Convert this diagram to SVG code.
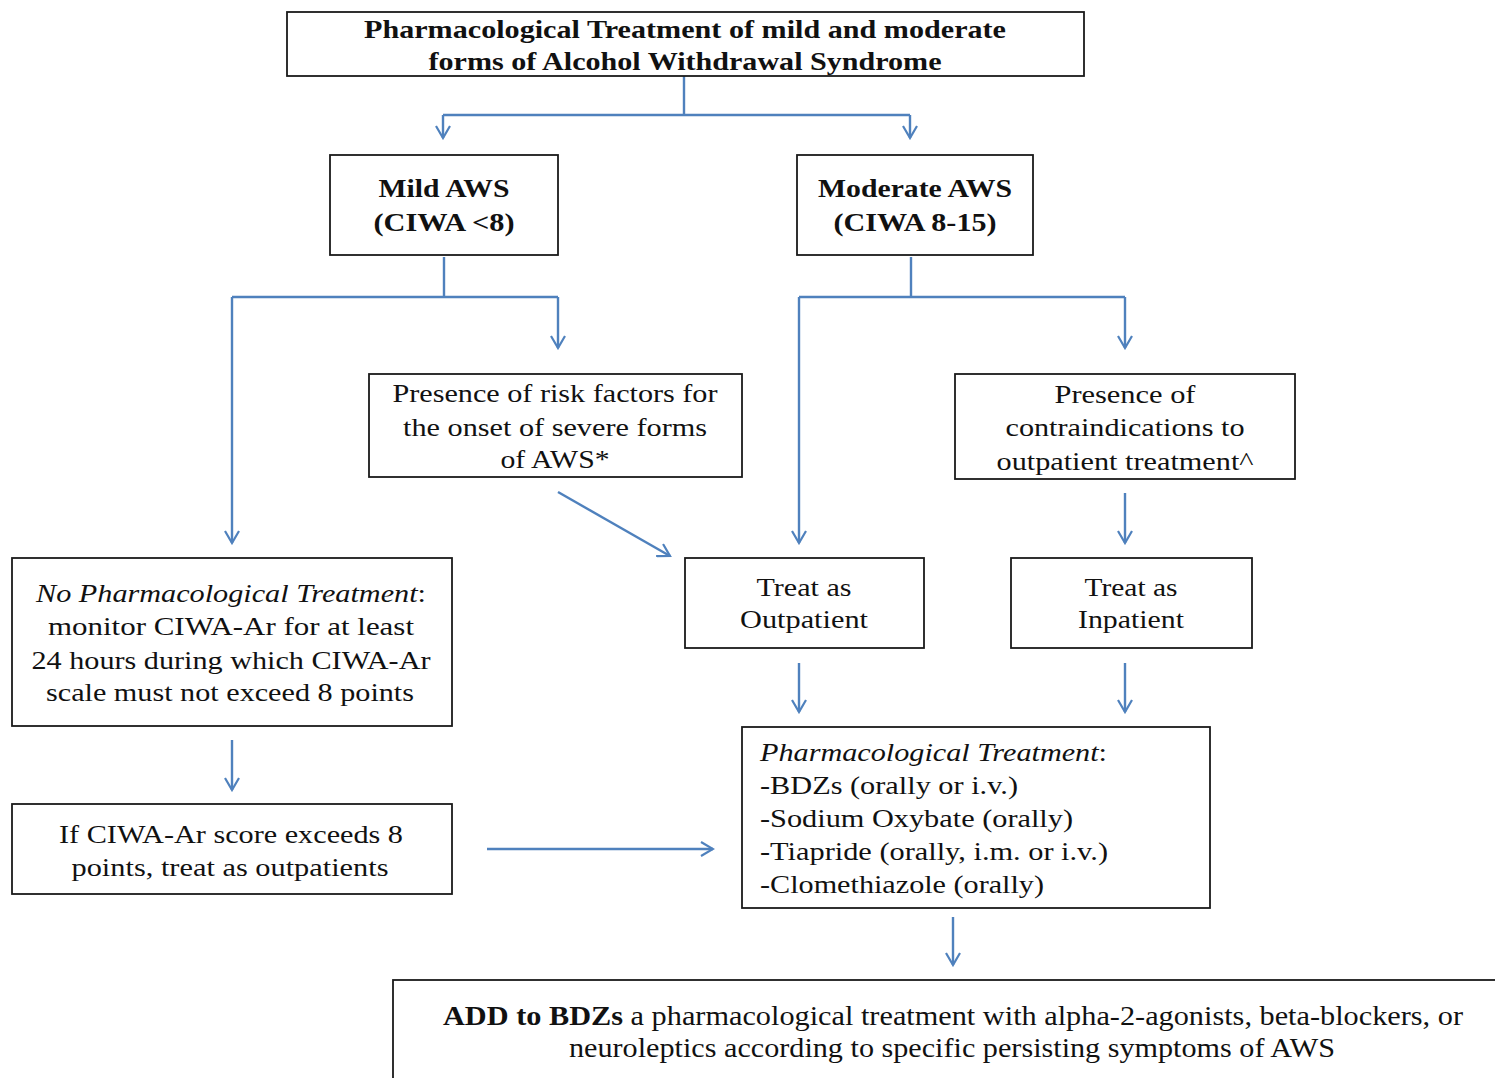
<svg xmlns="http://www.w3.org/2000/svg" width="1495" height="1078" viewBox="0 0 1495 1078">
<style>
.box{fill:#fff;stroke:#1a1a1a;stroke-width:1.8}
.t{font-family:"Liberation Serif","Times New Roman",serif;font-size:25px;fill:#111}
.b{font-weight:bold}
.i{font-style:italic}
.c{text-anchor:middle}
.cn{fill:none;stroke:#4f81bd;stroke-width:2.4}
</style>
<defs>
<marker id="ah" viewBox="0 0 16 16" refX="14" refY="8" markerWidth="16" markerHeight="16" markerUnits="userSpaceOnUse" orient="auto">
<path d="M2,1 L14,8 L2,15" fill="none" stroke="#4f81bd" stroke-width="2.2"/>
</marker>
</defs>
<g id="connectors">
<path class="cn" d="M684,76 V115 M443,115 H910"/>
<path class="cn" d="M443,115 V138" marker-end="url(#ah)"/>
<path class="cn" d="M910,115 V138" marker-end="url(#ah)"/>
<path class="cn" d="M444,257 V297 M232,297 H558"/>
<path class="cn" d="M232,297 V543" marker-end="url(#ah)"/>
<path class="cn" d="M558,297 V348" marker-end="url(#ah)"/>
<path class="cn" d="M911,257 V297 M799,297 H1125"/>
<path class="cn" d="M799,297 V543" marker-end="url(#ah)"/>
<path class="cn" d="M1125,297 V348" marker-end="url(#ah)"/>
<path class="cn" d="M558,492 L670,556" marker-end="url(#ah)"/>
<path class="cn" d="M1125,493 V543" marker-end="url(#ah)"/>
<path class="cn" d="M232,740 V790" marker-end="url(#ah)"/>
<path class="cn" d="M799,663 V712" marker-end="url(#ah)"/>
<path class="cn" d="M1125,663 V712" marker-end="url(#ah)"/>
<path class="cn" d="M487,849 H713" marker-end="url(#ah)"/>
<path class="cn" d="M953,917 V965" marker-end="url(#ah)"/>
</g>
<g id="title">
<rect class="box" x="287" y="12" width="797" height="64"/>
<text class="t b c" x="685" y="38" textLength="642" lengthAdjust="spacingAndGlyphs">Pharmacological Treatment of mild and moderate</text>
<text class="t b c" x="685" y="70" textLength="513" lengthAdjust="spacingAndGlyphs">forms of Alcohol Withdrawal Syndrome</text>
</g>
<g id="mild">
<rect class="box" x="330" y="155" width="228" height="100"/>
<text class="t b c" x="444" y="197" textLength="131" lengthAdjust="spacingAndGlyphs">Mild AWS</text>
<text class="t b c" x="444" y="231" textLength="141" lengthAdjust="spacingAndGlyphs">(CIWA &lt;8)</text>
</g>
<g id="moderate">
<rect class="box" x="797" y="155" width="236" height="100"/>
<text class="t b c" x="915" y="197" textLength="194" lengthAdjust="spacingAndGlyphs">Moderate AWS</text>
<text class="t b c" x="915" y="231" textLength="163" lengthAdjust="spacingAndGlyphs">(CIWA 8-15)</text>
</g>
<g id="risk">
<rect class="box" x="369" y="374" width="373" height="103"/>
<text class="t c" x="555" y="402" textLength="325" lengthAdjust="spacingAndGlyphs">Presence of risk factors for</text>
<text class="t c" x="555" y="436" textLength="304" lengthAdjust="spacingAndGlyphs">the onset of severe forms</text>
<text class="t c" x="555" y="468" textLength="109" lengthAdjust="spacingAndGlyphs">of AWS*</text>
</g>
<g id="contra">
<rect class="box" x="955" y="374" width="340" height="105"/>
<text class="t c" x="1125" y="403" textLength="141" lengthAdjust="spacingAndGlyphs">Presence of</text>
<text class="t c" x="1125" y="436" textLength="239" lengthAdjust="spacingAndGlyphs">contraindications to</text>
<text class="t c" x="1125" y="470" textLength="257" lengthAdjust="spacingAndGlyphs">outpatient treatment^</text>
</g>
<g id="nopharm">
<rect class="box" x="12" y="558" width="440" height="168"/>
<text class="t c" x="231" y="602" textLength="390" lengthAdjust="spacingAndGlyphs"><tspan class="i">No Pharmacological Treatment</tspan>:</text>
<text class="t c" x="231" y="635" textLength="366" lengthAdjust="spacingAndGlyphs">monitor  CIWA-Ar for at least</text>
<text class="t c" x="231" y="669" textLength="399" lengthAdjust="spacingAndGlyphs">24 hours during which CIWA-Ar</text>
<text class="t c" x="230" y="701" textLength="368" lengthAdjust="spacingAndGlyphs">scale must not exceed 8 points</text>
</g>
<g id="outpatient">
<rect class="box" x="685" y="558" width="239" height="90"/>
<text class="t c" x="804" y="596" textLength="95" lengthAdjust="spacingAndGlyphs">Treat as</text>
<text class="t c" x="804" y="628" textLength="128" lengthAdjust="spacingAndGlyphs">Outpatient</text>
</g>
<g id="inpatient">
<rect class="box" x="1011" y="558" width="241" height="90"/>
<text class="t c" x="1131" y="596" textLength="93" lengthAdjust="spacingAndGlyphs">Treat as</text>
<text class="t c" x="1131" y="628" textLength="106" lengthAdjust="spacingAndGlyphs">Inpatient</text>
</g>
<g id="ifciwa">
<rect class="box" x="12" y="804" width="440" height="90"/>
<text class="t c" x="231" y="843" textLength="344" lengthAdjust="spacingAndGlyphs">If CIWA-Ar score exceeds 8</text>
<text class="t c" x="230" y="876" textLength="317" lengthAdjust="spacingAndGlyphs">points, treat as outpatients</text>
</g>
<g id="pharm">
<rect class="box" x="742" y="727" width="468" height="181"/>
<text class="t" x="760" y="761" textLength="347" lengthAdjust="spacingAndGlyphs"><tspan class="i">Pharmacological Treatment</tspan>:</text>
<text class="t" x="760" y="794" textLength="258" lengthAdjust="spacingAndGlyphs">-BDZs (orally or i.v.)</text>
<text class="t" x="760" y="827" textLength="313" lengthAdjust="spacingAndGlyphs">-Sodium Oxybate (orally)</text>
<text class="t" x="760" y="860" textLength="348" lengthAdjust="spacingAndGlyphs">-Tiapride (orally, i.m. or i.v.)</text>
<text class="t" x="760" y="893" textLength="284" lengthAdjust="spacingAndGlyphs">-Clomethiazole (orally)</text>
</g>
<g id="add">
<rect class="box" x="393" y="980" width="1110" height="110"/>
<text class="t c" x="953" y="1025" style="font-size:27px" textLength="1020" lengthAdjust="spacingAndGlyphs"><tspan class="b">ADD to BDZs</tspan> a pharmacological treatment with alpha-2-agonists, beta-blockers, or</text>
<text class="t c" x="952" y="1057" style="font-size:27px" textLength="766" lengthAdjust="spacingAndGlyphs">neuroleptics according to specific persisting symptoms of AWS</text>
</g>
</svg>
